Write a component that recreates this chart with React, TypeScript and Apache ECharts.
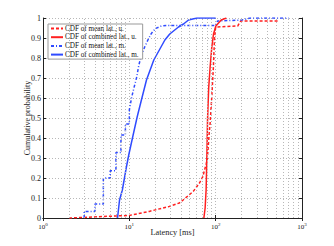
import React, { useEffect, useRef } from "react";
import * as echarts from "echarts";

// CDF of mean latency, u. (red dashed)
const meanUX = [2, 3, 5, 7, 10, 17, 29, 38, 42, 55, 65, 71, 78, 80, 81.5, 84, 86.3, 90, 94, 97, 100, 180, 195, 550];
const meanUY = [0, 0.003, 0.008, 0.01, 0.013, 0.033, 0.058, 0.075, 0.09, 0.133, 0.175, 0.207, 0.274, 0.3, 0.34, 0.42, 0.475, 0.6, 0.75, 0.9, 0.955, 0.96, 0.985, 0.985];
// CDF of combined latency, u. (red solid)
const combUX = [73, 75.5, 77.5, 79, 80.5, 83, 86.3, 90, 94.4, 100.6, 116, 133];
const combUY = [0, 0.05, 0.14, 0.3, 0.49, 0.65, 0.756, 0.85, 0.92, 0.96, 0.99, 1.0];
// CDF of mean latency, m. (blue dashed)
const meanMX = [3, 3, 4, 4, 5, 5, 6, 6, 7, 7, 8, 8, 9, 9, 10, 10, 10.6, 11.3, 12.1, 12.9, 13.8, 15.1, 16.4, 18, 20.2, 23.5, 28, 100, 105, 200, 250, 700];
const meanMY = [0, 0.033, 0.033, 0.07, 0.07, 0.2, 0.2, 0.236, 0.236, 0.327, 0.327, 0.415, 0.415, 0.47, 0.47, 0.54, 0.6, 0.65, 0.7, 0.765, 0.815, 0.856, 0.89, 0.923, 0.948, 0.96, 0.963, 0.963, 0.985, 0.99, 1.0, 1.0];
// CDF of combined latency, m. (blue solid)
const combMX = [7.3, 7.7, 8.3, 8.7, 9.2, 9.9, 11, 12.1, 12.4, 13.8, 15.8, 19.2, 25.8, 29.4, 37.1, 42.4, 48.5, 60.7, 100];
const combMY = [0, 0.09, 0.14, 0.19, 0.25, 0.32, 0.41, 0.49, 0.51, 0.59, 0.69, 0.79, 0.89, 0.92, 0.955, 0.97, 0.99, 1.0, 1.0];

const seriesNames = [
  "CDF of mean lat., u.",
  "CDF of combined lat., u.",
  "CDF of mean lat., m.",
  "CDF of combined lat., m.",
];
const minorGridX = [2, 3, 4, 5, 6, 7, 8, 9, 20, 30, 40, 50, 60, 70, 80, 90, 200, 300, 400, 500, 600, 700, 800, 900];
const yTicks = [0, 0.1, 0.2, 0.3, 0.4, 0.5, 0.6, 0.7, 0.8, 0.9, 1];

const zip = (xs: number[], ys: number[]) => xs.map((x, i) => [x, ys[i]]);

const RED = "#ff2020";
const BLUE = "#2f4bff";
const FONT = "Liberation Serif";
const GRIDC = "#b8b8b8";

export default function App() {
  const ref = useRef<HTMLDivElement>(null);
  useEffect(() => {
    document.body.style.margin = "0";
    const chart = echarts.init(ref.current!, null, { renderer: "svg" });
    const supMap: Record<number, string> = { 1: "0", 10: "1", 100: "2", 1000: "3" };
    const grid = { left: 43, right: 32, top: 18, bottom: 28 };
    const axisLine = { show: true, lineStyle: { color: "#222", width: 1 } };
    const lineSeries = (name: string, xs: number[], ys: number[], color: string, type: any, z: number) => ({
      name,
      type: "line",
      data: zip(xs, ys),
      showSymbol: false,
      symbol: "none",
      legendIcon: "none",
      lineStyle: { color, width: 1.5, type },
      itemStyle: { color },
      z,
    });
    chart.setOption({
      animation: false,
      backgroundColor: "#fff",
      grid,
      legend: {
        orient: "vertical",
        left: 48,
        top: 24,
        padding: [1, 4, 1, 2],
        itemGap: 1.7,
        itemWidth: 12,
        itemHeight: 8,
        backgroundColor: "#fff",
        borderColor: "#999",
        borderWidth: 1,
        itemStyle: { opacity: 0 },
        textStyle: { fontFamily: FONT, fontSize: 7.2, color: "#111", padding: [0, 0, 0, -3] },
        data: seriesNames,
      },
      xAxis: [
        {
          type: "log",
          min: 1,
          max: 1000,
          logBase: 10,
          name: "Latency [ms]",
          nameLocation: "middle",
          nameGap: 10.5,
          nameMoveOverlap: false,
          nameTextStyle: { fontFamily: FONT, fontSize: 8.3, color: "#222" },
          axisLine,
          axisTick: { show: true, inside: true, length: 3, lineStyle: { color: "#222" } },
          splitLine: { show: true, lineStyle: { type: [1, 2], color: GRIDC } },
          axisLabel: {
            margin: 4,
            formatter: (v: number) => `{b|10}{s|${supMap[Math.round(v)] ?? ""}}`,
            rich: {
              b: { fontFamily: FONT, fontSize: 7, color: "#222" },
              s: { fontFamily: FONT, fontSize: 5, color: "#222", padding: [0, 0, 5, 0] },
            },
          },
        },
        {
          type: "log",
          min: 1,
          max: 1000,
          position: "top",
          axisLine,
          axisTick: { show: true, inside: true, length: 3, lineStyle: { color: "#222" } },
          axisLabel: { show: false },
          splitLine: { show: false },
        },
      ],
      yAxis: [
        {
          type: "value",
          min: 0,
          max: 1,
          interval: 0.1,
          name: "Cumulative probability",
          nameLocation: "middle",
          nameGap: 11.5,
          nameMoveOverlap: false,
          nameTextStyle: { fontFamily: FONT, fontSize: 8, color: "#222" },
          axisLine,
          axisTick: { show: true, inside: true, length: 3, lineStyle: { color: "#222" } },
          splitLine: { show: true, lineStyle: { type: [1, 2], color: GRIDC } },
          axisLabel: {
            margin: 2,
            fontFamily: FONT,
            fontSize: 8,
            color: "#222",
            formatter: (v: number) => {
              const t = yTicks.find((k) => Math.abs(k - v) < 1e-6);
              return t === undefined ? "" : String(t);
            },
          },
        },
        {
          type: "value",
          min: 0,
          max: 1,
          interval: 0.1,
          position: "right",
          axisLine,
          axisTick: { show: true, inside: true, length: 3, lineStyle: { color: "#222" } },
          axisLabel: { show: false },
          splitLine: { show: false },
        },
      ],
      series: [
        {
          name: "minor-grid",
          type: "line",
          data: [],
          silent: true,
          markLine: {
            silent: true,
            symbol: "none",
            label: { show: false },
            lineStyle: { type: [1, 2], color: GRIDC, width: 1 },
            data: minorGridX.map((x) => ({ xAxis: x })),
          },
        },
        lineSeries(seriesNames[0], meanUX, meanUY, RED, [3, 2], 3),
        lineSeries(seriesNames[1], combUX, combUY, RED, "solid", 4),
        lineSeries(seriesNames[2], meanMX, meanMY, BLUE, [3, 2, 1, 2], 3),
        lineSeries(seriesNames[3], combMX, combMY, BLUE, "solid", 4),
      ],
    });
    return () => chart.dispose();
  }, []);
  return <div ref={ref} style={{ width: 334, height: 246 }} />;
}
